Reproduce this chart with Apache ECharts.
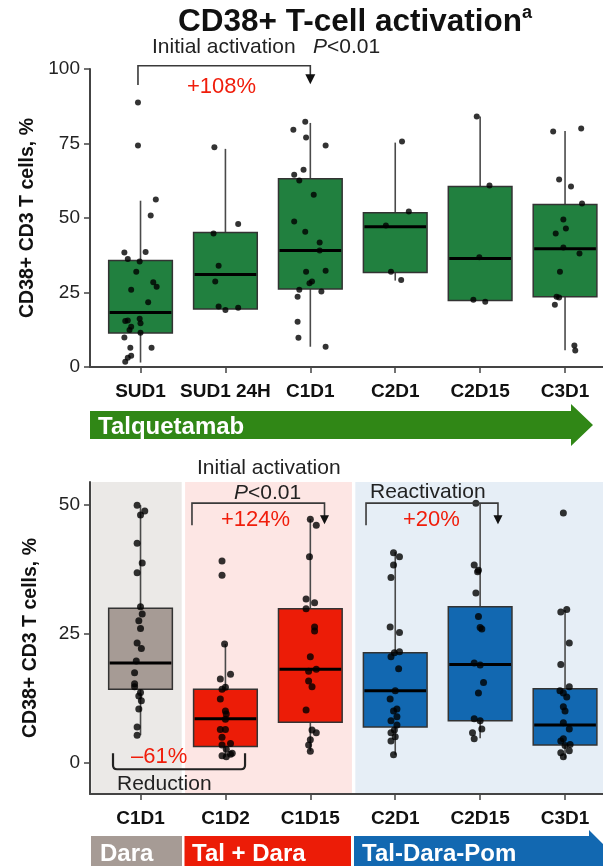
<!DOCTYPE html>
<html><head><meta charset="utf-8">
<script src="https://cdn.jsdelivr.net/npm/echarts@6/dist/echarts.min.js"></script>
<style>html,body{margin:0;padding:0;background:#fff}#c{width:603px;height:866px}</style>
</head><body><div id="c"></div>
<script>
// ---------------- data ----------------
const topCategories = ['SUD1', 'SUD1 24H', 'C1D1', 'C2D1', 'C2D15', 'C3D1'];
// [min, Q1, median, Q3, max]
const topBoxStats = [
  [1.5, 11.4, 18.3, 35.7, 55.8],
  [19.5, 19.5, 31.0, 45.1, 73.2],
  [6.8, 26.2, 39.1, 63.2, 81.9],
  [29.0, 31.7, 47.1, 51.8, 75.3],
  [22.3, 22.3, 36.4, 60.6, 84.1],
  [5.6, 23.6, 39.7, 54.5, 79.2]
];
// points per category: [jitter offset, value]
const topPoints = [
  [[-0.03,88.8],[-0.03,74.3],[0.18,56.2],[0.12,50.8],[0.06,38.6],[-0.19,38.4],[-0.15,36.2],[-0.01,35.4],[-0.05,32.0],[0.15,28.4],[0.19,26.9],[-0.11,25.9],[0.09,21.7],[-0.01,16.2],[-0.15,15.6],[-0.18,15.4],[0,14.7],[-0.11,13.5],[-0.13,12.4],[0,11.5],[-0.19,9.9],[-0.12,6.5],[0.13,6.5],[-0.11,3.8],[-0.15,3.1],[-0.18,1.8]],
  [[-0.13,73.7],[0.15,48.0],[-0.14,44.8],[-0.08,34.0],[-0.12,28.7],[-0.08,20.3],[0,19.1],[0.15,19.9]],
  [[-0.06,82.3],[-0.2,79.6],[-0.05,77.0],[0.18,74.3],[-0.08,66.2],[-0.19,64.5],[-0.13,62.6],[0.04,57.8],[-0.19,48.8],[-0.06,45.4],[0.11,41.8],[0.11,39.1],[-0.05,32.0],[0.18,32.3],[-0.01,28.1],[0.02,28.7],[-0.13,25.9],[0.13,25.3],[-0.15,23.6],[-0.15,15.2],[-0.14,9.8],[0.18,6.8]],
  [[0.08,75.7],[0.16,52.2],[-0.11,47.5],[-0.05,32.0],[0.07,29.2]],
  [[-0.04,84.1],[0.11,60.9],[-0.01,36.8],[-0.08,22.6],[0.06,21.9]],
  [[-0.14,79.0],[0.19,80.0],[-0.07,62.9],[0.07,60.6],[0.2,54.9],[-0.02,49.5],[0.01,46.5],[-0.11,44.8],[-0.02,40.1],[0.17,38.1],[-0.06,32.0],[-0.1,23.6],[-0.07,23.3],[-0.12,20.9],[0.11,7.2],[0.12,5.5]]
];
const topYTicks = [0, 25, 50, 75, 100];

const bottomCategories = ['C1D1', 'C1D2', 'C1D15', 'C2D1', 'C2D15', 'C3D1'];
const bottomBoxStats = [
  [5.4, 14.3, 19.4, 30.0, 50.0],
  [1.2, 3.2, 8.6, 14.3, 23.1],
  [2.3, 7.9, 18.2, 29.9, 47.3],
  [1.6, 7.0, 14.0, 21.4, 40.9],
  [4.8, 8.2, 19.1, 30.3, 50.4],
  [0.9, 3.5, 7.4, 14.4, 29.7]
];
const bottomPoints = [
  [[-0.04,50.0],[0,48.1],[0.05,48.9],[-0.04,42.6],[0.02,38.8],[-0.04,36.9],[0,30.3],[0.02,28.9],[-0.02,27.6],[0,26.1],[-0.04,23.3],[0.01,22.2],[-0.05,19.8],[-0.07,17.5],[-0.07,15.4],[-0.07,14.8],[0,13.7],[-0.02,13.0],[0.01,12.1],[-0.02,10.5],[-0.04,7.0],[-0.04,5.4]],
  [[-0.04,39.2],[-0.04,36.4],[-0.01,23.1],[0.06,17.2],[-0.06,16.3],[0,14.7],[-0.04,14.3],[-0.06,12.4],[0,10.1],[0.01,9.5],[0,8.5],[-0.06,6.5],[0,6.5],[-0.04,5.0],[0.06,3.8],[-0.04,3.5],[0.01,2.7],[-0.04,1.4],[0.06,1.7],[0.08,1.9],[0.01,1.2]],
  [[0,47.3],[0.07,46.1],[-0.01,40.0],[-0.05,31.8],[0.05,31.1],[-0.05,29.9],[0.05,26.4],[0.05,25.6],[0,20.6],[-0.02,17.8],[0.07,18.2],[-0.02,15.9],[0.02,14.8],[-0.05,10.3],[0.02,6.4],[0.07,5.9],[0,4.5],[-0.02,3.5],[0,2.3]],
  [[-0.02,40.8],[0.05,40.0],[-0.02,38.4],[-0.05,36.0],[-0.06,26.4],[0.05,25.3],[0.05,21.6],[-0.01,21.4],[-0.05,20.6],[0.04,18.3],[0,14.0],[-0.06,12.4],[0.02,10.5],[-0.02,10.1],[0.02,9.0],[-0.05,8.2],[0.02,7.4],[-0.01,6.4],[-0.05,5.9],[0,5.1],[-0.05,4.3],[-0.02,1.6]],
  [[-0.05,50.4],[-0.07,38.4],[-0.02,37.4],[-0.03,37.1],[-0.05,33.0],[-0.02,28.4],[0,26.3],[0.02,26.0],[-0.07,19.4],[0,19.0],[0.04,15.6],[-0.02,13.6],[-0.07,8.6],[0,8.2],[0.02,6.6],[-0.09,5.9],[-0.07,4.7]],
  [[-0.02,48.5],[-0.05,29.3],[0.02,29.8],[0.05,23.3],[-0.05,19.1],[0.05,14.8],[-0.06,14.0],[-0.02,13.6],[0.02,12.8],[-0.02,10.9],[0,10.1],[-0.02,7.8],[0.05,6.6],[-0.02,4.7],[-0.05,4.3],[0.06,3.6],[0,3.4],[0.05,2.4],[-0.05,2.0],[-0.02,1.2]]
];
const bottomYTicks = [0, 25, 50];

// ---------------- styling / layout ----------------
const FONT = '"Liberation Sans", Arial, Helvetica, sans-serif';
const X_MIN = 0.405, X_MAX = 6.447, HALF_BOX = 0.375;
const topColors = ['#21803f','#21803f','#21803f','#21803f','#21803f','#21803f'];
const bottomColors = ['#a69b95','#ec1c07','#ec1c07','#1268b1','#1268b1','#1268b1'];
const catIdx = [1, 2, 3, 4, 5, 6];

const boxData = stats => stats.map((s, i) => [i + 1].concat(s));
const pointData = pts => pts.flatMap((arr, i) => arr.map(p => [i + 1 + p[0], p[1]]));

function boxRender(colors) {
  return function (params, api) {
    const x = api.value(0);
    const pMin = api.coord([x, api.value(1)]);
    const pQ1 = api.coord([x, api.value(2)]);
    const pMed = api.coord([x, api.value(3)]);
    const pQ3 = api.coord([x, api.value(4)]);
    const pMax = api.coord([x, api.value(5)]);
    const l = api.coord([x - HALF_BOX, api.value(4)])[0];
    const r = api.coord([x + HALF_BOX, api.value(4)])[0];
    const wStyle = { stroke: '#4a4a4a', lineWidth: 1.6 };
    return {
      type: 'group',
      children: [
        { type: 'line', shape: { x1: pMax[0], y1: pMax[1], x2: pQ3[0], y2: pQ3[1] }, style: wStyle },
        { type: 'line', shape: { x1: pMin[0], y1: pMin[1], x2: pQ1[0], y2: pQ1[1] }, style: wStyle },
        { type: 'rect', shape: { x: l, y: pQ3[1], width: r - l, height: pQ1[1] - pQ3[1] },
          style: { fill: colors[params.dataIndex], stroke: '#333', lineWidth: 1.5 } },
        { type: 'line', shape: { x1: l + 1, y1: pMed[1], x2: r - 1, y2: pMed[1] }, style: { stroke: '#000', lineWidth: 3 } }
      ]
    };
  };
}

// bracket annotation positions in data coordinates of each grid
const topArrows = [{ x1: 0.97, x2: 3.0, yTop: 101.1, yLeg: 94.6, yTip: 94.9, head: 10 }];
const bottomArrows = [
  { x1: 1.606, x2: 3.167, yTop: 50.4, yLeg: 46.1, yTip: 46.3, head: 9 },
  { x1: 3.656, x2: 5.21, yTop: 50.4, yLeg: 46.1, yTip: 46.3, head: 9 }
];
const reductionBracket = { x1: 0.676, x2: 2.231, yTop: 1.9, yBottom: -1.2 };

function annotRender(arrows, reduction) {
  return function (params, api) {
    const children = [];
    arrows.forEach(d => {
      const a = api.coord([d.x1, d.yLeg]), b = api.coord([d.x1, d.yTop]);
      const c = api.coord([d.x2, d.yTop]), t = api.coord([d.x2, d.yTip]);
      const h = d.head;
      children.push({ type: 'polyline', shape: { points: [a, b, c, [t[0], t[1] - h + 1]] },
        style: { stroke: '#3a3a3a', lineWidth: 1.6, fill: null } });
      children.push({ type: 'polygon', shape: { points: [[t[0] - h / 2, t[1] - h], [t[0] + h / 2, t[1] - h], [t[0], t[1]]] },
        style: { fill: '#111' } });
    });
    if (reduction) {
      const p1 = api.coord([reduction.x1, reduction.yTop]);
      const p2 = api.coord([reduction.x1, reduction.yBottom]);
      const p3 = api.coord([reduction.x2, reduction.yBottom]);
      const p4 = api.coord([reduction.x2, reduction.yTop]);
      const rr = 4;
      const path = `M${p1[0]} ${p1[1]} L${p2[0]} ${p2[1] - rr} Q${p2[0]} ${p2[1]} ${p2[0] + rr} ${p2[1]} ` +
        `L${p3[0] - rr} ${p3[1]} Q${p3[0]} ${p3[1]} ${p3[0]} ${p3[1] - rr} L${p4[0]} ${p4[1]}`;
      children.push({ type: 'path', shape: { pathData: path }, style: { stroke: '#222', lineWidth: 2.2, fill: null } });
    }
    return { type: 'group', children };
  };
}

function xAxisCfg(gridIndex, cats) {
  return {
    type: 'value', gridIndex, min: X_MIN, max: X_MAX,
    axisLine: { show: true, onZero: false, lineStyle: { color: '#444', width: 2 } },
    axisTick: { show: true, length: 6, customValues: catIdx, lineStyle: { color: '#444', width: 1.5 } },
    axisLabel: { customValues: catIdx, formatter: v => cats[Math.round(v) - 1] || '',
      fontFamily: FONT, fontWeight: 'bold', fontSize: 19, color: '#111', margin: 15 },
    splitLine: { show: false }
  };
}
function yAxisCfg(gridIndex, min, max, ticks) {
  return {
    type: 'value', gridIndex, min, max,
    name: 'CD38+ CD3 T cells, %', nameLocation: 'middle', nameGap: 49, nameRotate: 90,
    nameTextStyle: { fontFamily: FONT, fontWeight: 'bold', fontSize: 19.5, color: '#111' },
    axisLine: { show: true, onZero: false, lineStyle: { color: '#444', width: 2 } },
    axisTick: { show: true, length: 6, customValues: ticks, lineStyle: { color: '#444', width: 1.5 } },
    axisLabel: { customValues: ticks, fontFamily: FONT, fontSize: 19, color: '#222', margin: 10 },
    splitLine: { show: false }
  };
}

const bandY0 = -5.8, bandY1 = 54.5;
const bands = [
  [0.42, 1.485, '#ebe9e7'],
  [1.525, 3.49, '#fde6e4'],
  [3.53, X_MAX, '#e6eef6']
];

const T = (text, x, y, opt) => Object.assign({ type: 'text', x, y, z: 100,
  style: Object.assign({ text, fontFamily: FONT, fontSize: 20, fill: '#222', textVerticalAlign: 'middle', textAlign: 'left' }, opt || {}) });

const RED = '#f01d0b';
const graphics = [
  // title
  T('{t|CD38+ T-cell activation}{s|a}', 355, 22, { textAlign: 'center',
    rich: { t: { fontFamily: FONT, fontSize: 31.5, fontWeight: 'bold', fill: '#111', lineHeight: 36 },
            s: { fontFamily: FONT, fontSize: 18, fontWeight: 'bold', fill: '#111', verticalAlign: 'top', lineHeight: 36 } } }),
  // top annotations
  T('Initial activation', 152, 47, { fontSize: 21 }),
  T('{i|P}<0.01', 313, 47, { fontSize: 21, rich: { i: { fontFamily: FONT, fontSize: 21, fontStyle: 'italic', fill: '#222' } } }),
  T('+108%', 187, 87, { fontSize: 22, fill: RED }),
  // banners
  { type: 'polygon', z: 90, shape: { points: [[90, 411], [571, 411], [571, 404], [593, 425], [571, 446], [571, 439], [90, 439]] }, style: { fill: '#308716' } },
  T('Talquetamab', 98, 427, { fontSize: 24, fontWeight: 'bold', fill: '#fff' }),
  // bottom annotations
  T('Initial activation', 197, 468, { fontSize: 21 }),
  T('{i|P}<0.01', 234, 493, { fontSize: 21, rich: { i: { fontFamily: FONT, fontSize: 21, fontStyle: 'italic', fill: '#222' } } }),
  T('+124%', 221, 520, { fontSize: 22, fill: RED }),
  T('Reactivation', 370, 492, { fontSize: 21 }),
  T('+20%', 403, 520, { fontSize: 22, fill: RED }),
  T('\u201361%', 131, 757, { fontSize: 22, fill: RED }),
  T('Reduction', 117, 784, { fontSize: 21 }),
  // bottom banners
  { type: 'rect', z: 90, shape: { x: 91, y: 836, width: 91, height: 32 }, style: { fill: '#a69b95' } },
  { type: 'rect', z: 90, shape: { x: 184.5, y: 836, width: 166.5, height: 32 }, style: { fill: '#ec1c07' } },
  { type: 'polygon', z: 90, shape: { points: [[354, 836], [589, 836], [589, 830], [625, 866], [625, 870], [354, 870]] }, style: { fill: '#1268b1' } },
  T('Dara', 100, 854, { fontSize: 24, fontWeight: 'bold', fill: '#fff' }),
  T('Tal + Dara', 192, 854, { fontSize: 24, fontWeight: 'bold', fill: '#fff' }),
  T('Tal-Dara-Pom', 362, 854, { fontSize: 24, fontWeight: 'bold', fill: '#fff' })
];

const option = {
  animation: false,
  backgroundColor: '#fff',
  grid: [
    { left: 90, top: 69, width: 513, height: 298 },
    { left: 90, top: 482, width: 513, height: 312 }
  ],
  xAxis: [xAxisCfg(0, topCategories), xAxisCfg(1, bottomCategories)],
  yAxis: [yAxisCfg(0, 0, 100, topYTicks), yAxisCfg(1, -6, 54.5, bottomYTicks)],
  graphic: graphics,
  series: [
    { type: 'line', xAxisIndex: 1, yAxisIndex: 1, data: [], z: 0, silent: true,
      markArea: { silent: true, data: bands.map(b => [
        { xAxis: b[0], yAxis: bandY0, itemStyle: { color: b[2] } }, { xAxis: b[1], yAxis: bandY1 }]) } },
    { type: 'custom', xAxisIndex: 0, yAxisIndex: 0, z: 2, renderItem: boxRender(topColors),
      data: boxData(topBoxStats), encode: { x: 0, y: [1, 2, 3, 4, 5] } },
    { type: 'custom', xAxisIndex: 1, yAxisIndex: 1, z: 2, renderItem: boxRender(bottomColors),
      data: boxData(bottomBoxStats), encode: { x: 0, y: [1, 2, 3, 4, 5] } },
    { type: 'scatter', xAxisIndex: 0, yAxisIndex: 0, z: 3, symbolSize: 6, itemStyle: { color: '#000' },
      data: pointData(topPoints) },
    { type: 'scatter', xAxisIndex: 1, yAxisIndex: 1, z: 3, symbolSize: 7, itemStyle: { color: '#000' },
      data: pointData(bottomPoints) },
    { type: 'custom', xAxisIndex: 0, yAxisIndex: 0, z: 4, renderItem: annotRender(topArrows, null),
      data: [[1, 50]], encode: { x: 0, y: 1 } },
    { type: 'custom', xAxisIndex: 1, yAxisIndex: 1, z: 4, renderItem: annotRender(bottomArrows, reductionBracket),
      data: [[1, 20]], encode: { x: 0, y: 1 } }
  ]
};

const chart = echarts.init(document.getElementById('c'), null, { renderer: 'canvas' });
chart.setOption(option);
</script>
</body></html>
